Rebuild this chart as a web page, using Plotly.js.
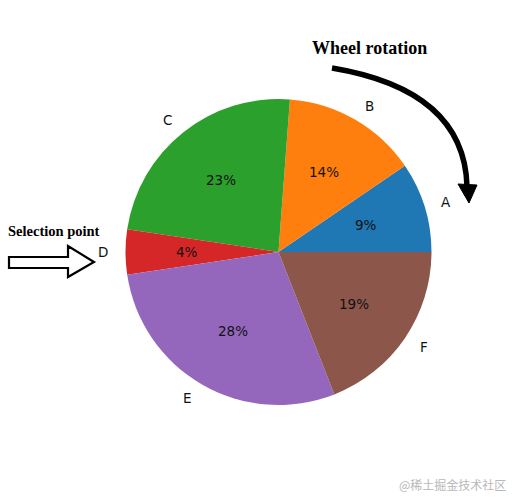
<!DOCTYPE html>
<html>
<head>
<meta charset="utf-8">
<script src="https://cdn.plot.ly/plotly-3.0.1.min.js"></script>
<style>html,body{margin:0;padding:0;background:#fff;}#chart{width:522px;height:499px;}</style>
</head>
<body>
<div id="chart"></div>
<script>
// Data
const labels = ["A", "B", "C", "D", "E", "F"];
const values = [10, 15, 25, 5, 30, 20];
const colors = ["#1f77b4", "#ff7f0e", "#2ca02c", "#d62728", "#9467bd", "#8c564b"];

const total = values.reduce((a, b) => a + b, 0);
const pctText = values.map(v => Math.floor(v / total * 100) + "%");

const W = 522, H = 499;
const px = x => x / W;
const py = y => 1 - y / H;

const domain = {x: [0.2404, 0.8266], y: [0.1884, 0.8016]};
const font = {family: "DejaVu Sans", size: 13.5, color: "#111"};

// pie geometry in paper units (derived from the domain)
const cx = (domain.x[0] + domain.x[1]) / 2, cy = (domain.y[0] + domain.y[1]) / 2;
const rPx = Math.min((domain.x[1] - domain.x[0]) * W, (domain.y[1] - domain.y[0]) * H) / 2;

const traces = [
  {
    type: "pie", labels: labels, values: values, sort: false,
    direction: "counterclockwise", rotation: 90 - 360 * values[0] / total,
    marker: {colors: colors, line: {width: 0}},
    textinfo: "none", domain: domain, showlegend: false, hoverinfo: "label+percent"
  }
];

function pathFrom(pts, close) {
  return pts.map((p, i) => (i ? "L" : "M") + px(p[0]) + "," + py(p[1])).join(" ") + (close ? " Z" : "");
}

const shapes = [
  {type: "path", xref: "paper", yref: "paper",
   path: "M" + px(332) + "," + py(68) + " Q" + px(464) + "," + py(90) + " " + px(467) + "," + py(186),
   line: {color: "#000", width: 5.5}},
  {type: "path", xref: "paper", yref: "paper",
   path: pathFrom([[458, 184], [477, 185], [469, 203]], true),
   fillcolor: "#000", line: {color: "#000", width: 1}},
  {type: "path", xref: "paper", yref: "paper",
   path: pathFrom([[9, 257], [68, 257], [68, 246], [94, 262], [68, 277], [68, 268], [9, 268]], true),
   fillcolor: "#fff", line: {color: "#000", width: 2.2}}
];

const annotations = [
  {text: "<b>Wheel rotation</b>", xref: "paper", yref: "paper", x: px(369), y: py(48),
   xanchor: "center", yanchor: "middle", showarrow: false,
   font: {family: "Liberation Serif", size: 18, color: "#000"}},
  {text: "<b>Selection point</b>", xref: "paper", yref: "paper", x: px(6), y: py(231),
   xanchor: "left", yanchor: "middle", showarrow: false,
   font: {family: "Liberation Serif", size: 14.5, color: "#000"}},
  {text: "@稀土掘金技术社区", xref: "paper", yref: "paper", x: px(508), y: py(484),
   xanchor: "right", yanchor: "middle", showarrow: false,
   font: {family: "Noto Sans CJK SC", size: 12, color: "#b8b8b8"}}
];

// slice labels (1.1 r) and percentages (0.6 r), computed from the values
let cum = 0;
values.forEach((v, i) => {
  const mid = (cum + v / 2) / total * 2 * Math.PI;
  cum += v;
  const c = Math.cos(mid), s = Math.sin(mid);
  annotations.push({
    text: pctText[i], xref: "paper", yref: "paper",
    x: cx + 0.6 * rPx * c / W, y: cy + 0.6 * rPx * s / H,
    xanchor: "center", yanchor: "middle", showarrow: false, font: font
  });
  annotations.push({
    text: labels[i], xref: "paper", yref: "paper",
    x: cx + 1.1 * rPx * c / W, y: cy + 1.1 * rPx * s / H,
    xanchor: c >= 0 ? "left" : "right", yanchor: "middle", showarrow: false, font: font
  });
});

Plotly.newPlot("chart", traces, {
  width: W, height: H,
  margin: {l: 0, r: 0, t: 0, b: 0},
  paper_bgcolor: "#fff", plot_bgcolor: "#fff",
  shapes: shapes, annotations: annotations
}, {displayModeBar: false, staticPlot: true});
</script>
</body>
</html>
